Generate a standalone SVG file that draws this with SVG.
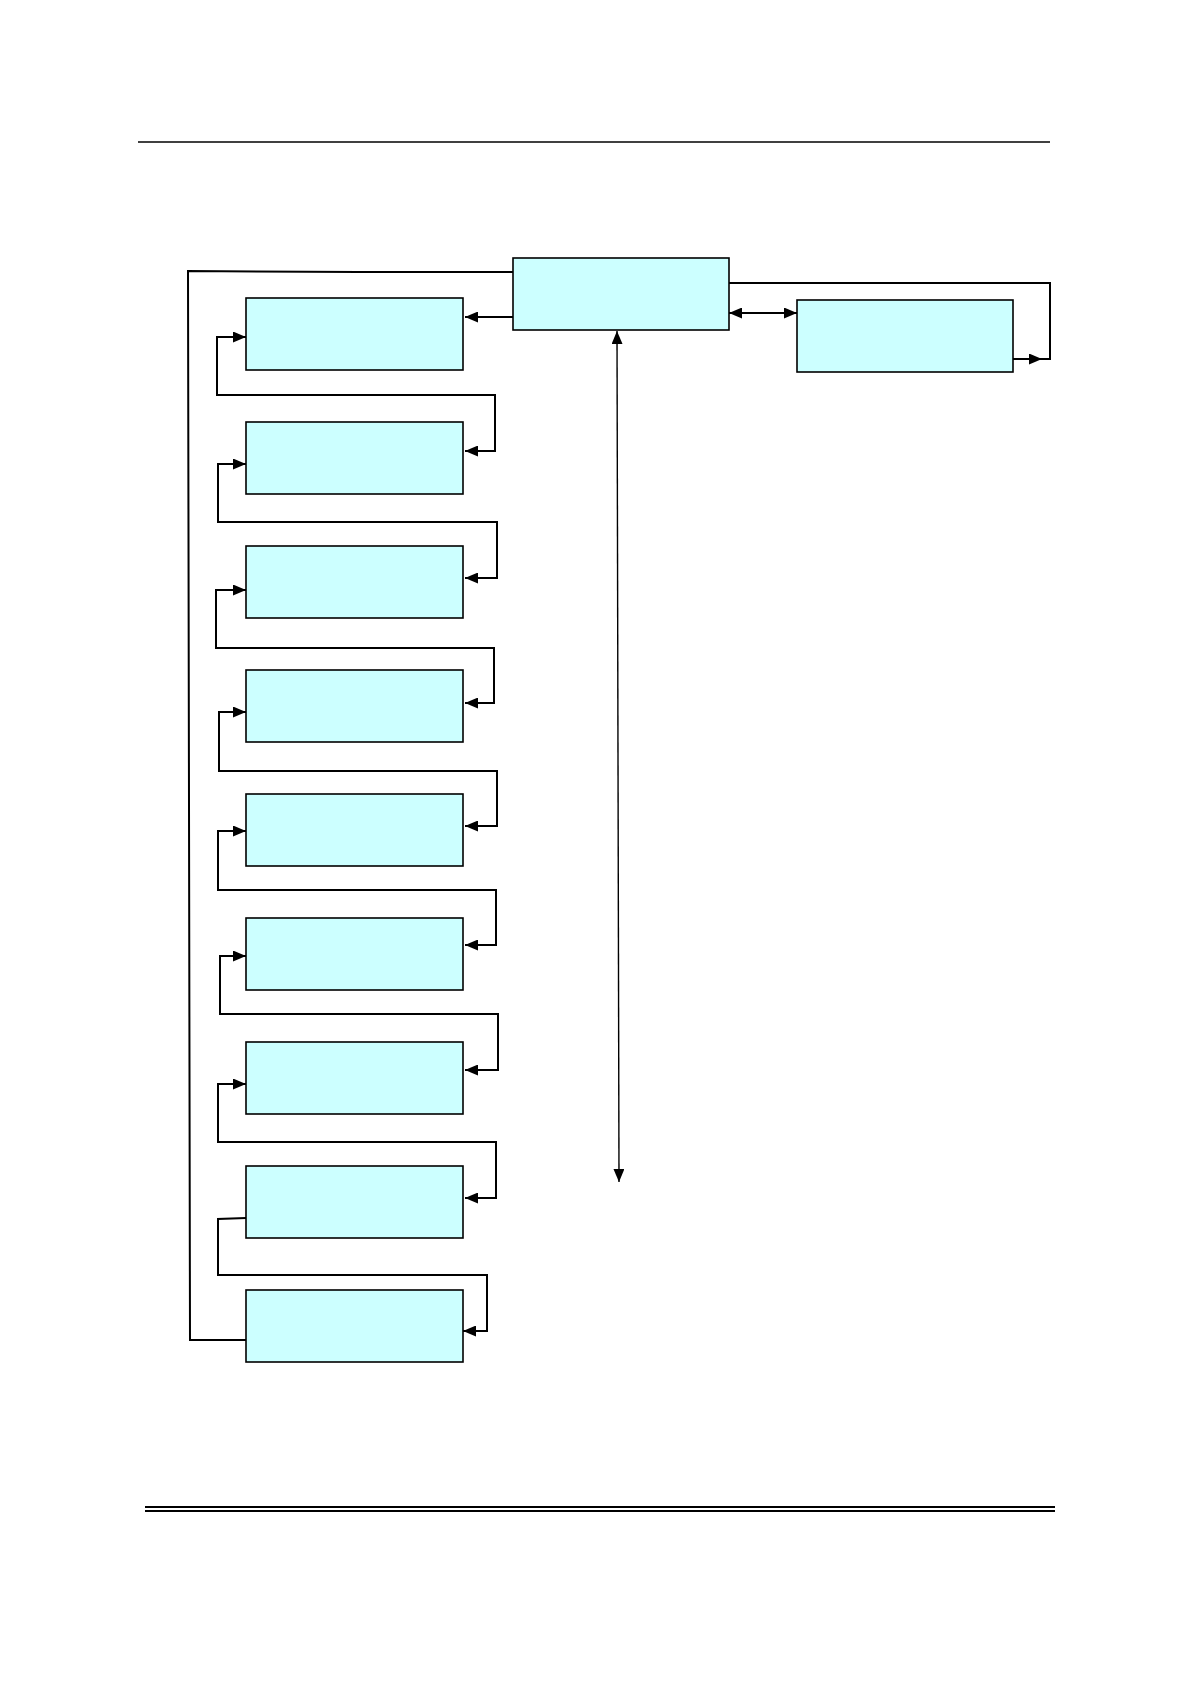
<svg xmlns="http://www.w3.org/2000/svg" width="1190" height="1684" viewBox="0 0 1190 1684">
<style>
.box{fill:#CCFFFF;stroke:#000;stroke-width:1.6}
.con{fill:none;stroke:#000;stroke-width:2}
.thin{fill:none;stroke:#000;stroke-width:1.4}
.rule{stroke:#000;fill:none}
</style>
<defs>
<marker id="ah" markerUnits="userSpaceOnUse" markerWidth="13" markerHeight="11" refX="13" refY="5.5" orient="auto-start-reverse" viewBox="0 0 13 11">
<path d="M0,0 L13,5.5 L0,11 z" fill="#000"/>
</marker>
</defs>
<rect width="1190" height="1684" fill="#fff"/>
<g id="page-rules">
<line class="rule" x1="138" y1="142" x2="1050" y2="142" stroke-width="1.3"/>
<line class="rule" x1="145" y1="1507" x2="1055" y2="1507" stroke-width="2"/>
<line class="rule" x1="145" y1="1511" x2="1055" y2="1511" stroke-width="2"/>
</g>
<g id="main"><rect class="box" x="513" y="258" width="216" height="72"/></g>
<g id="side"><rect class="box" x="797" y="300" width="216" height="72"/></g>
<g id="n1"><rect class="box" x="246" y="298" width="217" height="72"/></g>
<g id="n2"><rect class="box" x="246" y="422" width="217" height="72"/></g>
<g id="n3"><rect class="box" x="246" y="546" width="217" height="72"/></g>
<g id="n4"><rect class="box" x="246" y="670" width="217" height="72"/></g>
<g id="n5"><rect class="box" x="246" y="794" width="217" height="72"/></g>
<g id="n6"><rect class="box" x="246" y="918" width="217" height="72"/></g>
<g id="n7"><rect class="box" x="246" y="1042" width="217" height="72"/></g>
<g id="n8"><rect class="box" x="246" y="1166" width="217" height="72"/></g>
<g id="n9"><rect class="box" x="246" y="1290" width="217" height="72"/></g>
<g id="connectors">
<path class="con" d="M513,272 L358,272 L188,271 L190,1340 L246,1340"/>
<line class="con" x1="513" y1="317" x2="465" y2="317" marker-end="url(#ah)"/>
<line class="con" x1="729" y1="313" x2="797" y2="313" marker-start="url(#ah)" marker-end="url(#ah)"/>
<line class="thin" x1="617" y1="331" x2="619" y2="1182" marker-start="url(#ah)" marker-end="url(#ah)"/>
<line class="con" x1="1013" y1="359" x2="1042" y2="359" marker-end="url(#ah)"/>
<path class="con" d="M1040,359 H1050 V283 H729"/>
<path class="con" d="M246,337 H217 V395 H495 V451 H465" marker-start="url(#ah)" marker-end="url(#ah)"/>
<path class="con" d="M246,464 H218 V522 H497 V578 H465" marker-start="url(#ah)" marker-end="url(#ah)"/>
<path class="con" d="M246,590 H216 V648 H494 V703 H465" marker-start="url(#ah)" marker-end="url(#ah)"/>
<path class="con" d="M246,712 H219 V771 H497 V826 H465" marker-start="url(#ah)" marker-end="url(#ah)"/>
<path class="con" d="M246,831 H218 V890 H496 V945 H465" marker-start="url(#ah)" marker-end="url(#ah)"/>
<path class="con" d="M246,956 H220 V1014 H498 V1070 H465" marker-start="url(#ah)" marker-end="url(#ah)"/>
<path class="con" d="M246,1084 H218 V1142 H496 V1198 H465" marker-start="url(#ah)" marker-end="url(#ah)"/>
<path class="con" d="M246,1218 L218,1219 V1275 H487 V1331 H463" marker-end="url(#ah)"/>
</g>
</svg>
